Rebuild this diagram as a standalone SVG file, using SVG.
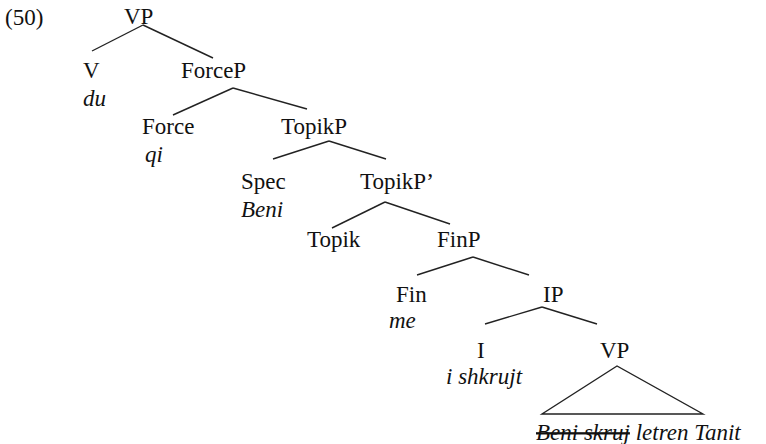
<svg xmlns="http://www.w3.org/2000/svg" width="766" height="444" viewBox="0 0 766 444">
<style>
.i{font-style:italic}
.e{stroke:#222;stroke-width:1.4;fill:none}
</style>
<rect width="766" height="444" fill="#fff"/>
<g font-family="Liberation Serif, Times New Roman, serif" font-size="23" fill="#111">
<text x="5" y="25">(50)</text>
<g id="connectors">
<line class="e" x1="143" y1="25" x2="92" y2="51"/>
<line class="e" x1="143" y1="25" x2="213" y2="58"/>
<line class="e" x1="233" y1="88" x2="173" y2="115"/>
<line class="e" x1="233" y1="88" x2="307" y2="109"/>
<line class="e" x1="329" y1="141" x2="273" y2="159"/>
<line class="e" x1="329" y1="141" x2="386" y2="159"/>
<line class="e" x1="385" y1="202" x2="332" y2="228"/>
<line class="e" x1="385" y1="202" x2="450" y2="224"/>
<line class="e" x1="473" y1="257" x2="417" y2="275"/>
<line class="e" x1="473" y1="257" x2="529" y2="275"/>
<line class="e" x1="542" y1="307" x2="485" y2="324"/>
<line class="e" x1="542" y1="307" x2="597" y2="324"/>
<polygon class="e" points="617,366 542,414 703,414"/>
</g>
<g id="vp1"><text x="124" y="24">VP</text></g>
<g id="v"><text x="83" y="78">V</text><text class="i" x="83" y="106">du</text></g>
<g id="forcep"><text x="181" y="78">ForceP</text></g>
<g id="force"><text x="142" y="134">Force</text><text class="i" x="145" y="162">qi</text></g>
<g id="topikp"><text x="281" y="134">TopikP</text></g>
<g id="spec"><text x="241" y="189">Spec</text><text class="i" x="241" y="217">Beni</text></g>
<g id="topikp2"><text x="360" y="189">TopikP’</text></g>
<g id="topik"><text x="307" y="247">Topik</text></g>
<g id="finp"><text x="437" y="247">FinP</text></g>
<g id="fin"><text x="396" y="302">Fin</text><text class="i" x="389" y="328">me</text></g>
<g id="ip"><text x="543" y="302">IP</text></g>
<g id="i"><text x="477" y="358">I</text><text class="i" x="446" y="384">i shkrujt</text></g>
<g id="vp2"><text x="600" y="358">VP</text><text class="i" x="536" y="440"><tspan text-decoration="line-through">Beni skruj</tspan> letren Tanit</text></g>
</g>
</svg>
